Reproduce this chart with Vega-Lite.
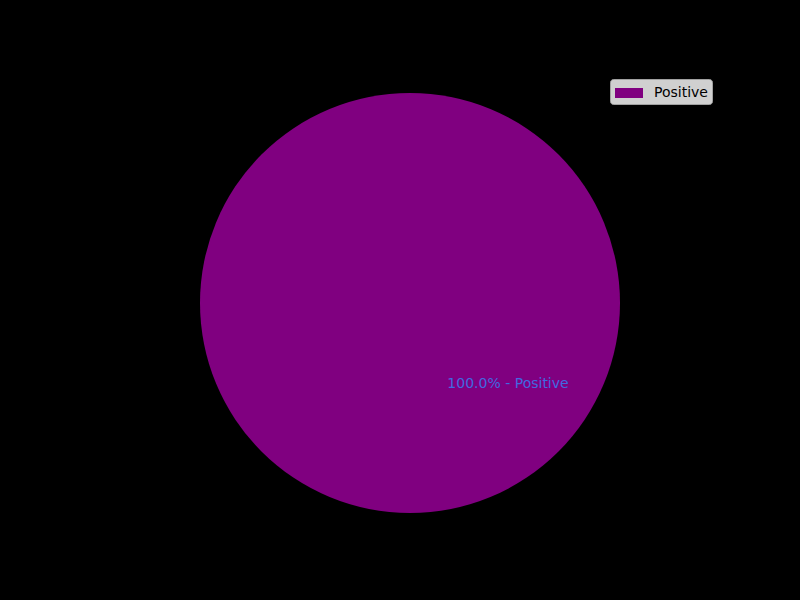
{
  "$schema": "https://vega.github.io/schema/vega-lite/v6.json",
  "width": 800,
  "height": 600,
  "autosize": {"type": "fit", "contains": "padding"},
  "padding": {"left": 20, "top": 6, "right": 0, "bottom": 0},
  "background": "#000000",
  "config": {"view": {"stroke": null}, "font": "DejaVu Sans"},
  "data": {"values": [{"sentiment": "Positive", "count": 1, "label": "100.0% - Positive"}]},
  "layer": [
    {
      "mark": {"type": "arc", "radius": 210},
      "encoding": {
        "theta": {"field": "count", "type": "quantitative", "stack": true},
        "color": {
          "field": "sentiment",
          "type": "nominal",
          "scale": {"domain": ["Positive"], "range": ["#800080"]},
          "legend": {
            "title": null,
            "orient": "none",
            "legendX": 590,
            "legendY": 73,
            "fillColor": "#d0d0d0",
            "strokeColor": "#a0a0a0",
            "cornerRadius": 3,
            "padding": 4,
            "symbolType": "M-1.4,-0.5H1.4V0.5H-1.4Z",
            "symbolSize": 400,
            "symbolOffset": 5,
            "symbolStrokeWidth": 0,
            "symbolOpacity": 1,
            "labelFontSize": 14,
            "labelColor": "#000000",
            "labelFont": "DejaVu Sans",
            "labelOffset": 15
          }
        }
      }
    },
    {
      "mark": {"type": "text", "theta": 2.26, "radius": 127, "fontSize": 14, "font": "DejaVu Sans", "color": "#4169e1", "align": "center", "baseline": "middle"},
      "encoding": {"text": {"field": "label"}}
    }
  ]
}
